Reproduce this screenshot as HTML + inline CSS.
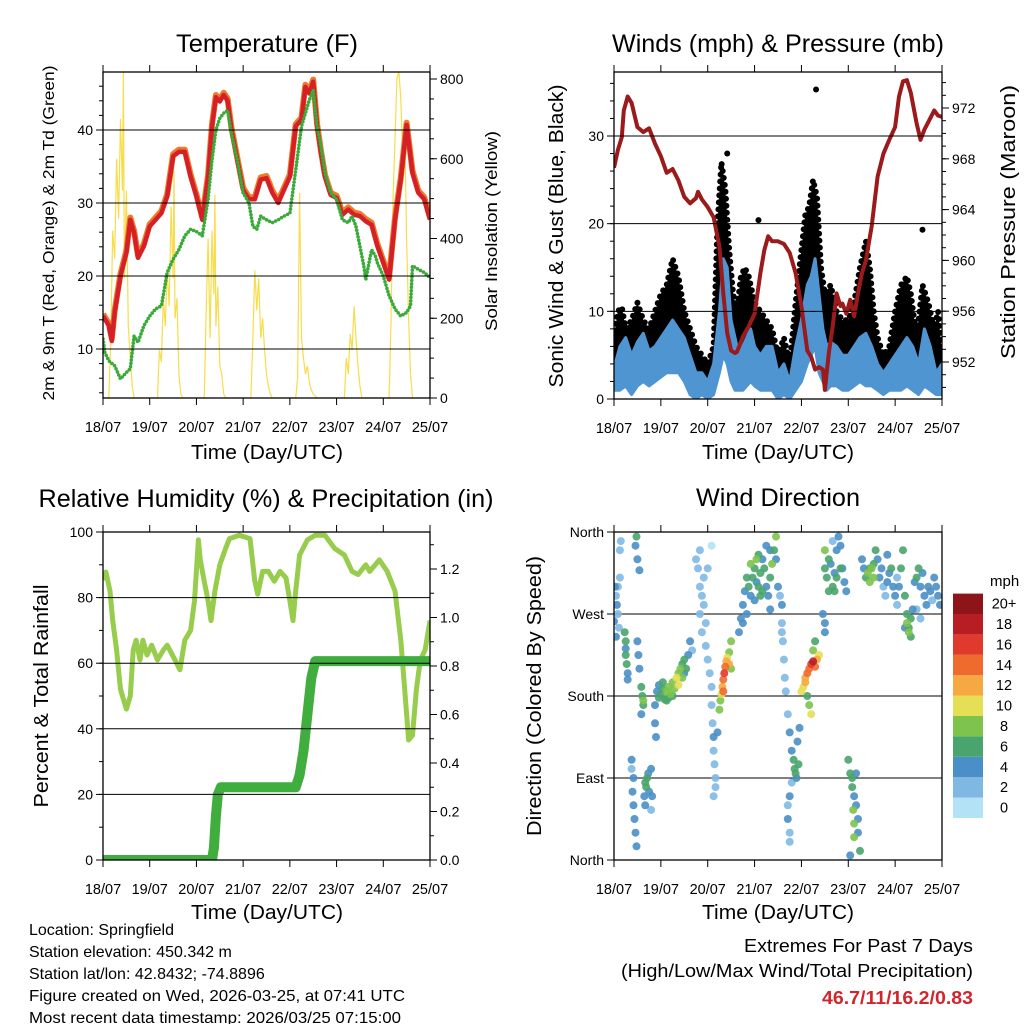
<!DOCTYPE html>
<html><head><meta charset="utf-8"><title>Station Meteogram</title>
<style>
html,body{margin:0;padding:0;background:#fff;}
svg{display:block;font-family:"Liberation Sans",Arial,sans-serif;}
.ttl{font-size:25px;fill:#000;}
.ax{font-size:20px;fill:#000;}
.info{font-size:16px;fill:#000;}
</style></head>
<body>
<svg id="chart" width="1024" height="1024" viewBox="0 0 1024 1024" xmlns="http://www.w3.org/2000/svg">
<defs>
<clipPath id="clip1"><rect x="103" y="72" width="327" height="326"/></clipPath>
<clipPath id="clip2"><rect x="614" y="72" width="328" height="327"/></clipPath>
<clipPath id="clip3"><rect x="103" y="532" width="327" height="328"/></clipPath>
<clipPath id="clip4"><rect x="614" y="532" width="328" height="328"/></clipPath>
</defs>
<text class="ttl" x="267" y="52" text-anchor="middle" textLength="182" lengthAdjust="spacingAndGlyphs">Temperature (F)</text>
<text class="ttl" x="778" y="52" text-anchor="middle" textLength="332" lengthAdjust="spacingAndGlyphs">Winds (mph) &amp; Pressure (mb)</text>
<text class="ttl" x="266" y="507" text-anchor="middle" textLength="455" lengthAdjust="spacingAndGlyphs">Relative Humidity (%) &amp; Precipitation (in)</text>
<text class="ttl" x="778" y="506" text-anchor="middle" textLength="164" lengthAdjust="spacingAndGlyphs">Wind Direction</text>

<text class="ax" x="267" y="459" text-anchor="middle" textLength="152" lengthAdjust="spacingAndGlyphs">Time (Day/UTC)</text>
<text class="ax" x="778" y="459" text-anchor="middle" textLength="152" lengthAdjust="spacingAndGlyphs">Time (Day/UTC)</text>
<text class="ax" x="267" y="919" text-anchor="middle" textLength="152" lengthAdjust="spacingAndGlyphs">Time (Day/UTC)</text>
<text class="ax" x="778" y="919" text-anchor="middle" textLength="152" lengthAdjust="spacingAndGlyphs">Time (Day/UTC)</text>

<text font-size="16" transform="translate(54,233) rotate(-90)" text-anchor="middle" textLength="335" lengthAdjust="spacingAndGlyphs">2m &amp; 9m T (Red, Orange) &amp; 2m Td (Green)</text>
<text font-size="17" transform="translate(497,231) rotate(-90)" text-anchor="middle" textLength="200" lengthAdjust="spacingAndGlyphs">Solar Insolation (Yellow)</text>
<text class="ax" transform="translate(563,236) rotate(-90)" text-anchor="middle" textLength="303" lengthAdjust="spacingAndGlyphs">Sonic Wind &amp; Gust (Blue, Black)</text>
<text class="ax" transform="translate(1015,222) rotate(-90)" text-anchor="middle" textLength="274" lengthAdjust="spacingAndGlyphs">Station Pressure (Maroon)</text>
<text class="ax" transform="translate(48,696) rotate(-90)" text-anchor="middle" textLength="223" lengthAdjust="spacingAndGlyphs">Percent &amp; Total Rainfall</text>
<text class="ax" transform="translate(541,696) rotate(-90)" text-anchor="middle" textLength="280" lengthAdjust="spacingAndGlyphs">Direction (Colored By Speed)</text>

<text class="info" x="29" y="935">Location: Springfield</text>
<text class="info" x="29" y="957">Station elevation: 450.342 m</text>
<text class="info" x="29" y="979">Station lat/lon: 42.8432; -74.8896</text>
<text class="info" x="29" y="1001" textLength="376" lengthAdjust="spacingAndGlyphs">Figure created on Wed, 2026-03-25, at 07:41 UTC</text>
<text class="info" x="29" y="1023" textLength="372" lengthAdjust="spacingAndGlyphs">Most recent data timestamp: 2026/03/25 07:15:00</text>
<text font-size="18" x="973" y="952" text-anchor="end" textLength="229" lengthAdjust="spacingAndGlyphs">Extremes For Past 7 Days</text>
<text font-size="18" x="973" y="977" text-anchor="end" textLength="352" lengthAdjust="spacingAndGlyphs">(High/Low/Max Wind/Total Precipitation)</text>
<text font-size="18" font-weight="bold" fill="#d0262c" x="973" y="1004" text-anchor="end" textLength="151" lengthAdjust="spacingAndGlyphs">46.7/11/16.2/0.83</text>
<text font-size="15" x="990" y="586">mph</text>
</svg>
<script>
// ---------- Temperature panel data ----------
const tHours=[0,3,4.5,6,9,12,14,16,18,21,24,27,30,33,36,39,42,45,48,51,54,56,58,60,62,64,66,69,72,75,78,81,84,87,90,93,96,99,102,104,106,108,110,112,114,117,120,123,126,129,132,135,138,141,144,147,150,153,156,159,162,165,168];
const tempRed=[14.5,13.2,11.1,15,20,23.2,27.7,25.9,22.5,24.1,26.8,27.7,28.6,30.9,36.4,37,37,33.6,30.9,27.7,33.6,40.5,44.5,43.9,44.8,44,40,35.9,31.8,30.5,30.5,33.2,33.4,31.4,30,31.8,33.6,40.5,41.4,45.9,45,46.6,40.5,36.8,33.6,31.1,30.7,28.4,29.1,28.4,28.2,27.5,27,24.1,21.8,19.5,27.7,33.2,40.7,34.1,31.4,30.5,27.7];
const tempOrange=[14.8,13.5,11.4,15.3,20.3,23.5,28,26.2,22.8,24.4,27.1,28,28.9,31.2,36.7,37.3,37.3,33.9,31.2,28,33.9,40.8,44.8,44.2,45.1,44.3,40.3,36.2,32.1,30.8,30.8,33.5,33.7,31.7,30.3,32.1,33.9,40.8,41.7,46.2,45.3,46.9,40.8,37.1,33.9,31.4,31,28.7,29.4,28.7,28.5,27.8,27.3,24.4,22.1,19.8,28,33.5,41,34.4,31.7,30.8,28];
const tdHours=[0,1,3,6,9,12,14,16,18,21,24,27,30,33,36,39,42,45,48,51,54,56,58,60,62,64,66,69,72,75,77,79,81,84,87,90,93,96,99,102,104,106,108,110,112,114,117,120,123,126,128,130,132,134,135,137,138,140,141,144,147,150,153,156,158,159,162,165,168];
const tdVals=[11.4,9.5,8.4,7.7,5.9,6.8,7.3,11.8,10.9,13.2,14.5,15.5,15.9,20.5,22.3,23.6,25.5,26.4,26.1,25.5,30.5,35.9,40,41.6,42.3,42.7,39.5,35.9,31.4,30,26.8,26.4,28.2,27.7,27.3,27.7,28.2,28.6,34.5,40.5,42.3,44.1,45.5,40.5,37.7,34.1,31.4,30.5,27.7,27.3,28.2,26.8,24.1,21.4,19.5,22.3,23.6,22.7,21.8,20,17.3,15.5,14.5,15,15.9,21.4,20.9,20.5,19.8];
const solarHours=[0,3,4,5,6,7,8,9,10,10.5,11,12,13,14,15,16,28,29,30,31,32,33,34,35,36,36.5,37,38,39,40,41,52,53,54,55,56,57,57.5,58,59,60,61,62,63,76,77,78,79,80,81,82,83,84,85,86,87,99,100,101,102,103,104,105,106,107,108,110,124,125,126,127,128,129,130,131,132,133,147,148,149,150,151,152,153,154,155,156,157,158,159,168];
const solarVals=[0,0,150,420,350,600,450,700,520,820,300,520,180,100,30,0,0,120,90,250,180,320,230,480,300,570,200,250,60,10,0,0,220,400,150,420,260,510,180,280,80,60,10,0,0,150,320,220,300,150,200,120,60,30,10,0,0,50,514,150,100,60,80,40,20,10,0,0,100,60,160,120,230,150,80,30,0,0,200,500,650,800,820,750,600,680,400,200,60,0,0];
const tempTicks=[10,20,30,40];
const solarTicks=[0,200,400,600,800];

// ---------- Wind / pressure data ----------
const presHours=[0,2,4,5,7,9,12,15,18,21,24,27,30,33,36,39,42,43,45,48,51,54,56,58,60,62,63,66,69,72,75,77,79,81,84,87,90,93,96,99,101,103,105,107,108,110,112,114,116,117,119,121,123,125,127,129,132,135,138,141,144,146,148,150,152,155,157,159,162,164,166,168];
const presVals=[967.3,968.7,969.7,971.8,972.9,972.4,970.5,970.1,970.4,969.2,968.2,966.9,967.2,966.3,965,964.5,964.9,965.4,964.8,964.2,963.4,961.1,957.4,954.3,952.9,952.7,952.8,954,954.8,955.8,959,960.8,961.9,961.5,961.5,961.3,960.6,959,956.4,952.9,952.4,951.4,951.6,951.4,949.8,952.7,954.8,957.4,956.4,956.6,955.8,956.9,955.6,957.4,959,960,962.7,966.6,968.4,969.5,970.5,972.9,974.1,974.2,973.2,970.8,969.5,970.3,971.2,971.8,971.4,971.3];
const windHours=[0,3,6,9,12,15,18,21,24,27,30,33,36,39,42,45,48,51,54,56,58,60,62,64,66,68,70,72,75,78,81,84,87,90,93,96,99,101,103,105,107,109,111,114,117,120,123,126,129,132,135,138,141,144,147,150,153,156,159,162,165,168];
const windLo=[1,1,1.5,0.5,1.5,2,1.5,2,2.5,3,3,3,2,0.5,0,0.5,0,0.5,3,5,4,2,1,1,1,1.5,2,1.5,1,1,1,0,0.5,0,1,2,4,5,6,3,2,1,1.5,1.5,1,1,1.5,2,1.5,1.5,1,0.5,1,1,1,1.5,1,0.5,1.5,1,0.5,0.5];
const windHi=[3.5,6,7,5,6.5,7.5,5.5,6,7,8,9,8,7,5,3,3,2,4,10,16,15,9,7,5,6,7,8,6,5,6,6,3,4,2,6,9,13,14,16,12,8,6,6.5,6,5,5,6,7,7.5,6,4,3,4,5,6,7,6,4,8,6,3,4];
const gustHours=[0,2,4,6,9,12,15,18,21,24,27,30,33,36,39,42,45,48,51,53,55,57,59,61,63,65,67,69,72,75,78,81,84,87,90,93,96,98,100,102,104,106,108,111,114,117,120,123,126,129,131,133,135,138,141,144,147,150,152,155,158,161,164,166,168];
const gustLo=[3,4,4,4,3,4,5,3,4,5,6,7,6,5,3,2,2,1,2,5,8,8,5,3,3,4,5,4,3,3,3,2,1,1,0.5,3,5,7,8,9,8,5,4,4,3,3,3,3,4,4,4,3,2,2,2,3,4,5,4,2,4,4,2,1,1];
const gustHi=[7,10,10.5,8,9,11,9,8,10,12,13,16,14,10,8,6,5,4,6,20,27,24,17,12,10,14,15,14,11,10,9,8,5,7,4,11,17,21,22,25,23,15,12,13,10,9,9,11,15,18,15,10,7,5,6,10,13,14,12,7,13,11,8,10,5];
const gustOutHours=[103.5,58,74,158];
const gustOutVals=[35.3,28,20.4,19.3];
const windTicks=[0,10,20,30];
const presTicks=[952,956,960,964,968,972];

// ---------- RH / precip data ----------
const rhHours=[0,1.5,3.6,5,7,9,12,14,15.5,17,19,20.5,22.6,25,28,31,33,37,39.5,42,45,47,49,50,52,54,55.5,57.5,60,63,65,70,75.5,78,79.5,82,85,88,91,94,96,97.6,99,101,105,109,114,119,124,128,131,135,137,142,146,150,153,155,157,159,161,163,165.5,168];
const rhVals=[85.4,87.8,82,73,64,52,46,50,64,67,61,67,62.5,65.5,61,64,65.5,61,58,67,70,79,97.6,91.5,85,79,73,82,90,95,98,99,98,85,81,88,88,85,88,86,79,73,82,93,97.6,99,99,95,93,88,87,90,88,91.5,88,82,67,52,36.6,38,52,61,64,73];
const pcpHours=[0,56,57,58,59,60.5,99,101,103,105,107,109,168];
const pcpVals=[0,0,0.05,0.18,0.27,0.3,0.3,0.35,0.45,0.6,0.75,0.82,0.82];
const rhTicks=[0,20,40,60,80,100];
const pcpTicks=[0,0.2,0.4,0.6,0.8,1.0,1.2];

// ---------- Wind direction data: [hour, degrees, mph] ----------
const wdPoints=[[0.5,300,3],[1,290,2],[1.5,280,3],[2,270,2],[0,262,3],[2.5,255,2],[3,310,2],[3,340,2],[3.5,350,1],[1,245,3],[2,300,1],
[6,240,5],[6,225,6],[6.5,215,5],[7,205,4],[6,232,4],[7,198,3],[5.5,250,6],
[11.5,355,6],[11,345,4],[12,330,3],[13,318,3],[12,240,4],[12.5,225,4],[13,210,3],
[14,190,6],[14.5,180,6],[15,170,5],[14,160,4],[15,175,7],
[9,110,4],[10,90,4],[9.5,75,3],[10,60,4],[10.5,45,3],[11,30,4],[11.5,15,4],[9,100,2],
[16,85,6],[16.5,80,6],[17,90,5],[15.5,70,4],[16,60,4],[17.5,95,4],[18,75,3],[19,55,2],[19.5,70,3],[19,100,3],
[21,170,4],[21,150,4],[21.5,135,3],
[22,185,4],[23,178,5],[24,182,6],[25,188,6],[26,176,5],[27,185,7],[28,190,8],[29,182,7],[30,195,8],[31,188,7],[32,200,9],[33,205,8],[34,210,7],[35,215,6],[36,220,6],[37,210,5],[38,225,4],[39,240,3],[30,180,6],[27,175,5],[25,195,5],[33,192,10],[35,200,7],[23,192,4],[28,178,5],[36,205,4],[40,230,2],
[42,330,1],[43,320,2],[44,300,1],[45,290,2],[46,280,1],[47,260,1],[45,250,1],[47,235,2],[48,220,1],[49,205,1],[50,190,1],[44,340,1],[48,320,2],[46,310,2],[44,270,1],[50,345,0],
[50,170,2],[50.5,150,2],[51,135,3],[51,120,2],[51.5,105,2],[52,90,1],[52,80,2],[51,70,1],[53,140,3],
[54,165,7],[54.5,175,8],[55,182,10],[55.5,190,12],[56,198,14],[56.5,205,16],[57,212,14],[57.5,218,12],[58,222,10],[59,228,8],[60,240,7],[59,215,11],[56,185,13],[60,210,8],
[64,250,3],[65,265,4],[66,280,4],[67,295,3],[68,310,5],[69,300,6],[70,290,4],[71,310,6],[72,320,5],[73,305,4],[74,300,5],[75,315,6],[76,330,4],[77,320,5],[78,300,4],[79,290,3],[80,310,5],[81,325,7],[82,340,6],[83,355,7],[84,300,3],[85,290,2],[86,280,3],[70,325,7],[74,335,6],[78,345,3],[66,260,4],[72,285,4],[76,295,5],[80,275,3],[83,330,3],[68,270,3],[75,290,6],[73,330,7],[80,340,4],
[86,260,2],[86.5,240,2],[87,220,1],[87.5,200,1],[88,185,1],[86,250,2],
[89,160,1],[90,140,3],[91,120,3],[92,110,5],[92.5,100,5],[93,95,6],[93.5,90,4],[91,85,2],[90,70,3],[89,60,2],[89,45,3],[90,30,2],[90,20,2],[94,130,4],[95,145,3],[94.5,105,6],
[96,185,9],[97,190,10],[98,200,12],[99,205,13],[100,210,14],[101,215,16],[102,218,17],[103,212,14],[104,220,11],[105,225,10],[98,195,11],[100,170,8],[101,160,9],[99,180,6],[102,230,8],[103,240,6],
[107,270,4],[108,260,3],[108,250,3],
[108,320,5],[109,310,6],[110,330,5],[111,325,4],[112,300,5],[113,315,4],[114,340,4],[115,355,3],[116,345,3],[117,320,4],[118,305,3],[119,295,4],[112,350,2],[110,295,5],[114,310,6],[116,320,5],[108,340,7],[113,295,6],
[120,110,5],[121,95,6],[122,90,6],[122,80,5],[123,70,4],[122.5,55,7],[123,40,7],[123,25,7],[124,60,4],[125,45,3],[125,30,3],[126,10,5],[124,95,3],[121,5,3],
[127,330,3],[128,320,4],[129,310,6],[130,315,7],[131,305,8],[132,320,7],[133,325,6],[134,340,5],[135,330,4],[136,310,3],[137,320,4],[138,300,2],[139,290,2],[140,305,3],[141,315,4],[142,320,5],[143,300,4],[144,290,3],[145,280,2],[146,300,4],[147,320,5],[148,340,6],[149,290,5],[150,270,6],[151,255,6],[152,245,5],[150,260,7],[151,250,7],[152,265,6],[149,255,4],[153,275,3],[154,305,4],[155,310,5],[156,320,6],[157,300,4],[158,315,3],[159,290,4],[160,280,3],[161,300,4],[162,295,4],[163,285,2],[164,310,4],[165,300,3],[166,290,4],[167,280,4],[155,275,2],[157,265,2],[133,310,7],[131,320,6],[145,310,2],[140,335,3]];
const dirTicks=[0,90,180,270,360];
const dirTickLabels=['North','East','South','West','North'];
const cbarColors=['#b3e2f7','#7fb9e3','#4a8fc7','#49a56d','#7dc34c','#e4df55','#f6a843','#ef6a2d','#df3a2b','#b81d24','#8d1419'];
const cbarLabels=['0','2','4','6','8','10','12','14','16','18','20+'];
const dayLabels=['18/07','19/07','20/07','21/07','22/07','23/07','24/07','25/07'];

const NS='http://www.w3.org/2000/svg';
const svg=document.getElementById('chart');
function mk(tag,parent){const e=document.createElementNS(NS,tag);(parent||svg).appendChild(e);return e;}
function lin(d0,d1,r0,r1){return v=>r0+(v-d0)*(r1-r0)/(d1-d0);}

const P1={x0:103,x1:430,y0:72,y1:398};
const P2={x0:614,x1:942,y0:72,y1:399};
const P3={x0:103,x1:430,y0:532,y1:860};
const P4={x0:614,x1:942,y0:532,y1:860};

const x1s=lin(0,168,P1.x0,P1.x1), x2s=lin(0,168,P2.x0,P2.x1), x3s=lin(0,168,P3.x0,P3.x1), x4s=lin(0,168,P4.x0,P4.x1);
const yTemp=lin(10,40,349,130), ySolar=lin(0,800,398,79);
const yWind=lin(0,30,399,136), yPres=lin(952,972,362,108);
const yRH=lin(0,100,860,532), yPcp=lin(0,1.2,860,569);
const yDir=lin(0,360,860,532);

function pathFrom(xs,ys,hours,vals){return hours.map((h,i)=>(i?'L':'M')+xs(h).toFixed(1)+','+ys(vals[i]).toFixed(1)).join('');}
function bandFrom(xs,ys,hours,lo,hi){let d=hours.map((h,i)=>(i?'L':'M')+xs(h).toFixed(1)+','+ys(hi[i]).toFixed(1)).join('');for(let i=hours.length-1;i>=0;i--)d+='L'+xs(hours[i]).toFixed(1)+','+ys(lo[i]).toFixed(1);return d+'Z';}

function line(x1,y1,x2,y2,stroke,w,name){
  const l=mk('line');
  l.setAttribute('x1',x1);l.setAttribute('y1',y1);l.setAttribute('x2',x2);l.setAttribute('y2',y2);
  l.setAttribute('stroke',stroke);l.setAttribute('stroke-width',w);
  
  
  return l;
}
function txt(x,y,s,anchor,name,size){
  const t=mk('text');
  t.setAttribute('x',x);t.setAttribute('y',y);t.setAttribute('text-anchor',anchor);
  t.setAttribute('font-size',size||14);
  t.textContent=s;
  
  
  return t;
}
function xAxis(P,xs){
  dayLabels.forEach((lab,i)=>{
    const x=xs(i*24);
    line(x,P.y1,x,P.y1+7,'#000',1,'x-tick');
    line(x,P.y0,x,P.y0-7,'#000',1,'x-tick-top');
    txt(x,P.y1+34,lab,'middle','x-tick-label',14.5);
  });
}
function yAxisLeft(P,ys,ticks,minor,fmt){
  minor.forEach(v=>{const y=ys(v);line(P.x0,y,P.x0-4,y,'#000',1,'y-minor-tick');});
  ticks.forEach((v,i)=>{const y=ys(v);line(P.x0,y,P.x0-7,y,'#000',1,'y-tick');
    if(y>P.y0+1&&y<P.y1-1) line(P.x0,y,P.x1,y,'#000',1,'grid-line');
    txt(P.x0-10,y+5,fmt(v,i),'end','y-tick-label');});
}
function yAxisRight(P,ys,ticks,minor,fmt){
  minor.forEach(v=>{const y=ys(v);line(P.x1,y,P.x1+4,y,'#000',1,'y2-minor-tick');});
  ticks.forEach(v=>{const y=ys(v);line(P.x1,y,P.x1+7,y,'#000',1,'y2-tick');
    txt(P.x1+10,y+5,fmt(v),'start','y2-tick-label');});
}
function frame(P,name){
  const r=mk('rect');
  r.setAttribute('x',P.x0);r.setAttribute('y',P.y0);r.setAttribute('width',P.x1-P.x0);r.setAttribute('height',P.y1-P.y0);
  r.setAttribute('fill','none');r.setAttribute('stroke','#000');r.setAttribute('stroke-width','1.3');
  
  
}
function range(a,b,s){const o=[];for(let v=a;v<=b+1e-9;v+=s)o.push(+v.toFixed(3));return o;}

// ===== Panel 1 =====
const g1=mk('g');g1.setAttribute('clip-path','url(#clip1)');


const solarPath=mk('path',g1);
solarPath.setAttribute('d',pathFrom(x1s,ySolar,solarHours,solarVals));
solarPath.setAttribute('fill','none');solarPath.setAttribute('stroke','#f7dc4c');solarPath.setAttribute('stroke-width','1.2');


yAxisLeft(P1,yTemp,tempTicks,range(4,46,2),v=>String(v));
const orangeLine=mk('path',g1);
orangeLine.setAttribute('d',pathFrom(x1s,yTemp,tHours,tempOrange));
orangeLine.setAttribute('fill','none');orangeLine.setAttribute('stroke','#ef7a2a');orangeLine.setAttribute('stroke-width','6');orangeLine.setAttribute('stroke-linejoin','round');


const redLine=mk('path',g1);
redLine.setAttribute('d',pathFrom(x1s,yTemp,tHours,tempRed));
redLine.setAttribute('fill','none');redLine.setAttribute('stroke','#d42026');redLine.setAttribute('stroke-width','4.5');redLine.setAttribute('stroke-linejoin','round');


const tdLine=mk('path',g1);
tdLine.setAttribute('d',pathFrom(x1s,yTemp,tdHours,tdVals));
tdLine.setAttribute('fill','none');tdLine.setAttribute('stroke','#3aaa3a');tdLine.setAttribute('stroke-width','3.6');tdLine.setAttribute('stroke-linecap','round');tdLine.setAttribute('stroke-dasharray','0 3.4');


yAxisRight(P1,ySolar,solarTicks,range(0,800,50),v=>String(v));
xAxis(P1,x1s);frame(P1,'temperature-frame');

// ===== Panel 2 =====
const g2=mk('g');g2.setAttribute('clip-path','url(#clip2)');


yAxisLeft(P2,yWind,windTicks,range(0,36,2),v=>String(v));
const gust=mk('path',g2);
gust.setAttribute('d',bandFrom(x2s,yWind,gustHours,gustLo,gustHi));
gust.setAttribute('fill','#000');gust.setAttribute('stroke','#000');gust.setAttribute('stroke-width','6');gust.setAttribute('stroke-linejoin','round');gust.setAttribute('stroke-linecap','round');gust.setAttribute('stroke-dasharray','0 7');


gustOutHours.forEach((h,i)=>{const c=mk('circle',g2);c.setAttribute('cx',x2s(h));c.setAttribute('cy',yWind(gustOutVals[i]));c.setAttribute('r','3');c.setAttribute('fill','#000');
  
  });
const wind=mk('path',g2);
wind.setAttribute('d',bandFrom(x2s,yWind,windHours,windLo,windHi));
wind.setAttribute('fill','#4f95d2');wind.setAttribute('stroke','#4f95d2');wind.setAttribute('stroke-width','3');wind.setAttribute('stroke-linejoin','round');


const pres=mk('path',g2);
pres.setAttribute('d',pathFrom(x2s,yPres,presHours,presVals));
pres.setAttribute('fill','none');pres.setAttribute('stroke','#9b1a1c');pres.setAttribute('stroke-width','4');pres.setAttribute('stroke-linejoin','round');


yAxisRight(P2,yPres,presTicks,range(950,974,1),v=>String(v));
xAxis(P2,x2s);frame(P2,'wind-frame');

// ===== Panel 3 =====
const g3=mk('g');g3.setAttribute('clip-path','url(#clip3)');


yAxisLeft(P3,yRH,rhTicks,range(0,100,10),v=>String(v));
const rh=mk('path',g3);
rh.setAttribute('d',pathFrom(x3s,yRH,rhHours,rhVals));
rh.setAttribute('fill','none');rh.setAttribute('stroke','#98cc4c');rh.setAttribute('stroke-width','5');rh.setAttribute('stroke-linejoin','round');


const pcp=mk('path',g3);
pcp.setAttribute('d',pathFrom(x3s,yPcp,pcpHours,pcpVals));
pcp.setAttribute('fill','none');pcp.setAttribute('stroke','#3fae3f');pcp.setAttribute('stroke-width','10');pcp.setAttribute('stroke-linejoin','round');pcp.setAttribute('stroke-linecap','round');


yAxisRight(P3,yPcp,pcpTicks,range(0,1.3,0.1),v=>v.toFixed(1));
xAxis(P3,x3s);frame(P3,'rh-frame');

// ===== Panel 4 =====
yAxisLeft(P4,yDir,dirTicks,[],(v,i)=>dirTickLabels[i]);
const g4=mk('g');g4.setAttribute('clip-path','url(#clip4)');


const sorted=wdPoints.slice().sort((a,b)=>a[2]-b[2]);
sorted.forEach(p=>{
  const c=mk('circle',g4);
  c.setAttribute('cx',x4s(p[0]).toFixed(1));c.setAttribute('cy',yDir(p[1]).toFixed(1));c.setAttribute('r','4');
  c.setAttribute('fill',cbarColors[Math.min(10,Math.round(p[2]/2))]);c.setAttribute('fill-opacity','0.9');
  
  
});
xAxis(P4,x4s);frame(P4,'wind-direction-frame');
// colorbar
cbarColors.forEach((col,i)=>{
  const y=818-(i+1)*20.4;
  const r=mk('rect');r.setAttribute('x',953);r.setAttribute('y',y.toFixed(1));r.setAttribute('width',30);r.setAttribute('height',20.4);r.setAttribute('fill',col);
  
  
  txt(1004,y+15,cbarLabels[i],'middle','colorbar-label',14.5);
});
</script>
</body></html>
